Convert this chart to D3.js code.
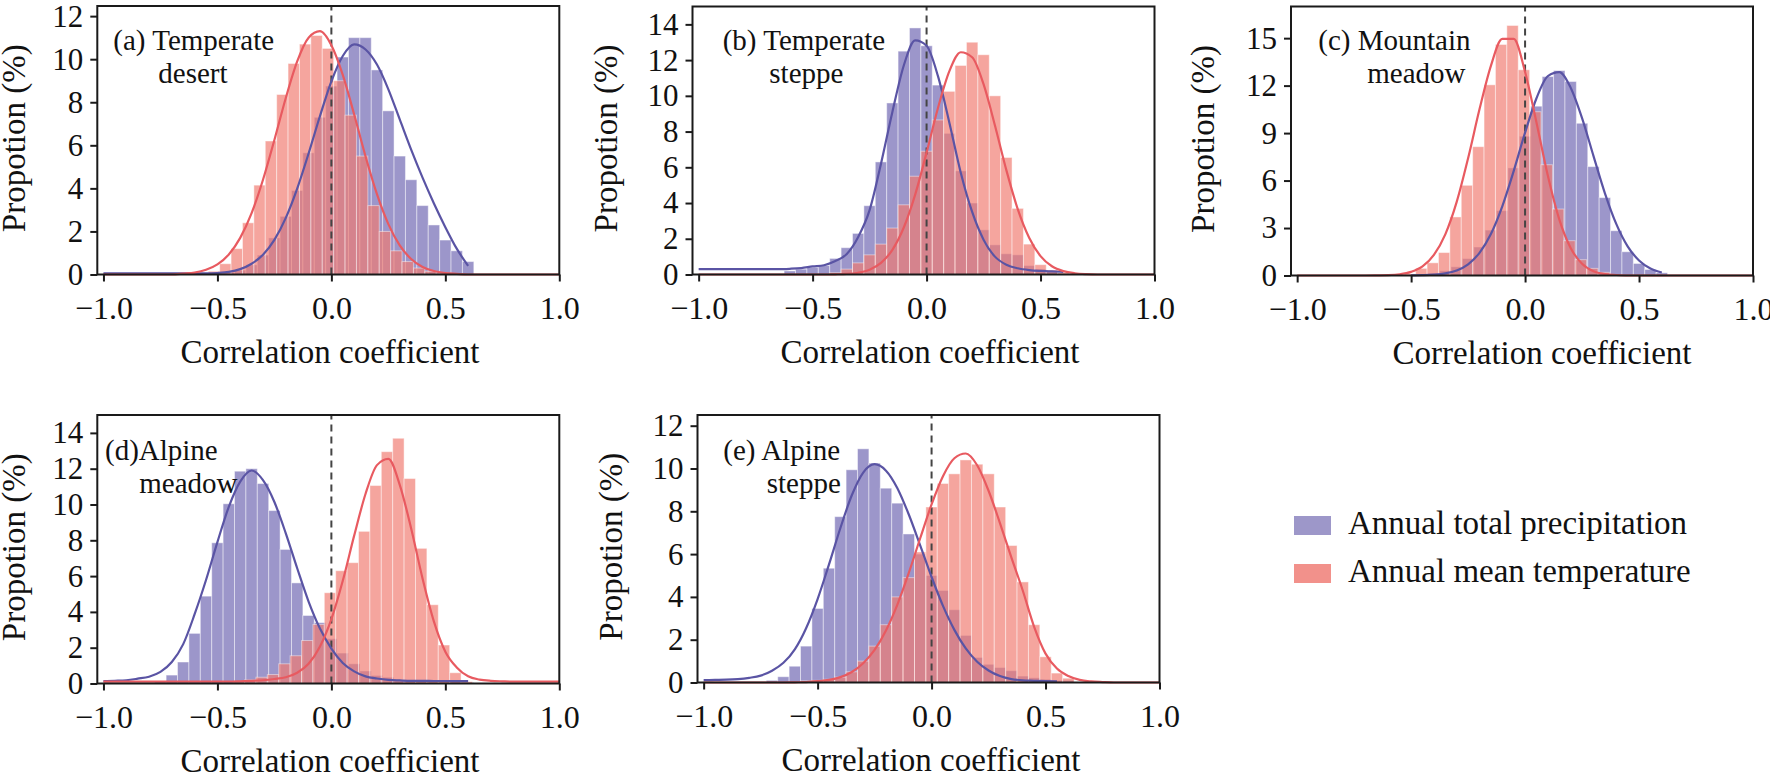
<!DOCTYPE html>
<html><head><meta charset="utf-8">
<script src="https://cdn.jsdelivr.net/npm/d3@7"></script>
<style>
html,body{margin:0;padding:0;background:#fff;}
svg{display:block;font-family:"Liberation Serif","Times New Roman",serif;}
</style></head><body>
<svg id="chart" width="1770" height="775"></svg>
<script>
// ---------------- DATA ----------------
const seriesNames = ["Annual total precipitation", "Annual mean temperature"];
const xTickValues = [-1, -0.5, 0, 0.5, 1];
const xTickLabels = ["\u22121.0", "\u22120.5", "0.0", "0.5", "1.0"];
const binWidth = 0.05;

const yTicksA = [0, 2, 4, 6, 8, 10, 12];
const yTicksB = [0, 2, 4, 6, 8, 10, 12, 14];
const yTicksC = [0, 3, 6, 9, 12, 15];
const yTicksD = [0, 2, 4, 6, 8, 10, 12, 14];
const yTicksE = [0, 2, 4, 6, 8, 10, 12];

// histogram bars: first bin centre + proportions (%)
const aPrecipStart = -0.45;
const aPrecip = [0.1,0.2,0.45,0.9,1.7,2.7,3.9,5.65,7.3,8.75,10.1,11.0,11.0,9.5,7.6,5.5,4.4,3.2,2.3,1.6,1.1,0.6];
const aTempStart = -0.515;
const aTemp = [0.15,0.5,1.2,2.4,4.15,6.2,8.36,9.8,10.7,11.1,10.5,9.0,7.4,5.5,3.2,2.0,1.1,0.6,0.3,0.15,0.08];

const bPrecipStart = -0.6;
const bPrecip = [0.2,0.3,0.4,0.5,0.9,1.5,2.3,3.85,6.3,9.6,12.5,13.8,12.8,10.6,7.9,5.8,4.0,2.5,1.66,1.16,1.1,0.5,0.3,0.15];
const bTempStart = -0.4;
const bTemp = [0.1,0.3,0.65,1.1,1.7,2.6,3.9,5.5,6.9,8.65,10.25,11.7,13.0,12.3,10.0,6.55,3.7,1.7,0.55,0.25,0.1];

const cPrecipStart = -0.4;
const cPrecip = [0.15,0.3,0.55,1.07,1.8,2.87,4.1,6.8,8.8,10.7,12.57,12.95,12.26,9.62,6.88,4.92,2.83,1.5,0.76,0.38,0.17];
const cTempStart = -0.505;
const cTemp = [0.1,0.45,0.8,1.45,3.7,5.7,8.14,12.05,14.6,15.8,13.0,10.35,7.0,4.2,2.2,1.0,0.45,0.2];

const dPrecipStart = -0.75;
const dPrecip = [0.1,0.47,1.2,2.8,4.88,7.86,10.04,11.86,12.0,11.17,9.66,7.49,5.62,3.8,3.4,2.5,1.7,1.1,0.7,0.45,0.35,0.2,0.15,0.1,0.1,0.1,0.1,0.05];
const dTempStart = -0.406;
const dTemp = [0.1,0.2,0.35,0.5,1.1,1.55,2.4,3.3,5.07,6.3,6.75,8.5,11.06,12.95,13.7,11.45,7.55,4.4,2.15,0.6,0.1];

const ePrecipStart = -0.7;
const ePrecip = [0.1,0.27,0.76,1.7,3.46,5.34,7.75,9.94,10.92,10.25,9.08,8.38,6.94,6.0,5.0,4.3,3.4,2.2,1.17,0.85,0.7,0.55,0.3,0.22,0.15,0.1,0.1];
const eTempStart = -0.55;
const eTemp = [0.08,0.1,0.15,0.25,0.5,1.0,1.7,2.7,4.0,4.9,6.1,8.2,9.3,9.75,10.4,10.2,9.75,8.2,6.4,4.7,2.7,1.2,0.44,0.2];

// fitted curves, read at these x positions (null = not drawn)
const curveX = [-1.0,-0.95,-0.9,-0.85,-0.8,-0.75,-0.7,-0.65,-0.6,-0.55,-0.5,-0.45,-0.4,-0.35,-0.3,-0.25,-0.2,-0.15,-0.1,-0.05,0.0,0.05,0.1,0.15,0.2,0.25,0.3,0.35,0.4,0.45,0.5,0.55,0.6,0.65,0.7,0.75,0.8,0.85,0.9,0.95,1.0];
const aPrecipFit = [0.05,0.05,0.05,0.05,0.05,0.05,0.05,0.05,0.05,0.05,0.07,0.12,0.25,0.5,0.92,1.61,2.63,3.99,5.62,7.36,8.97,10.15,10.69,10.45,9.75,8.6,7.2,5.8,4.5,3.3,2.2,1.2,0.4,null,null,null,null,null,null,null,null];
const aTempFit = [0,0,0,0,0,0,0,0.04,0.09,0.22,0.47,0.93,1.7,2.85,4.4,6.25,8.2,9.9,11.0,11.3,10.65,9.27,7.43,5.48,3.73,2.34,1.35,0.72,0.35,0.16,0.07,0.03,0,0,0,0,0,0,0,0,0];
const bPrecipFit = [0.3,0.3,0.3,0.3,0.3,0.3,0.3,0.3,0.32,0.36,0.45,0.52,0.75,1.15,2.1,3.6,6.2,9.1,11.7,13.1,12.8,11.1,8.5,5.7,3.5,1.95,1.0,0.55,0.35,0.25,0.2,0.17,0.15,null,null,null,null,null,null,null,null];
const bTempFit = [0,0,0,0,0,0,0,0,0,0,0,0,0.01,0.03,0.1,0.27,0.65,1.38,2.63,4.47,6.82,9.32,11.38,12.44,12.16,10.65,8.34,5.84,3.66,2.06,1.03,0.46,0.19,0.07,0.02,0,0,0,0,0,0];
const cPrecipFit = [null,null,null,null,null,null,null,null,null,null,0.01,0.02,0.05,0.13,0.32,0.71,1.43,2.62,4.37,6.6,9.03,11.2,12.6,12.85,11.87,9.95,7.56,5.21,3.26,1.84,0.95,0.44,0.19,null,null,null,null,null,null,null,null];
const cTempFit = [0,0,0,0,0,0,0,0.01,0.025,0.08,0.23,0.57,1.3,2.6,4.65,7.41,10.5,13.25,14.95,14.95,12.86,9.67,6.3,3.55,1.74,0.74,0.27,0.09,0.03,0,0,0,0,0,0,0,0,0,0,0,0];
const dPrecipFit = [0.13,0.15,0.18,0.27,0.38,0.65,1.2,2.2,3.87,5.78,7.9,9.87,11.28,11.9,11.36,10.14,8.39,6.44,4.58,3.07,1.95,1.15,0.68,0.4,0.28,0.2,0.17,0.15,0.15,0.14,0.14,0.13,0.13,null,null,null,null,null,null,null,null];
const dTempFit = [0.1,0.1,0.1,0.1,0.1,0.1,0.1,0.1,0.1,0.1,0.1,0.1,0.12,0.15,0.18,0.25,0.35,0.6,1.1,2.07,3.6,5.74,8.26,10.6,12.2,12.55,11.1,8.66,5.87,3.46,1.78,0.9,0.4,0.22,0.15,0.12,0.1,0.1,0.1,0.1,0.1];
const ePrecipFit = [0.11,0.12,0.13,0.16,0.22,0.32,0.55,0.92,1.55,2.55,3.9,5.52,7.22,8.75,9.81,10.2,9.9,9.08,7.85,6.41,4.93,3.58,2.46,1.59,0.97,0.56,0.3,0.16,0.1,0.08,0.06,0.05,null,null,null,null,null,null,null,null,null];
const eTempFit = [0,0,0,0,0,0,0,0,0.01,0.02,0.06,0.12,0.25,0.49,0.9,1.52,2.43,3.64,5.12,6.74,8.32,9.64,10.48,10.7,10.15,8.96,7.45,5.85,4.3,2.6,1.35,0.65,0.3,0.12,0.05,0.02,0,0,0,0,0];

const panelLabels = [["(a) Temperate","desert"],["(b) Temperate","steppe"],["(c) Mountain","meadow"],["(d)Alpine","meadow"],["(e) Alpine","steppe"]];

// ---------------- LAYOUT / STYLE ----------------
const colPrecipBar = "#7b73b8", colTempBar = "#f07a70";
const colPrecipLine = "#5a54a4", colTempLine = "#e85a60";
const colPrecipKey = "#9d97c9", colTempKey = "#f2918b";

const panels = [
  {frameLeft: 97.3, top: 6, bottom: 274.5, yMax: 12.47, yTicks: yTicksA, pS: aPrecipStart, p: aPrecip, tS: aTempStart, t: aTemp, pF: aPrecipFit, tF: aTempFit, lab: panelLabels[0], l1: [113.3, 50], l2: [158.3, 83], titleX: 330, yTitleX: 24.5},
  {frameLeft: 692.5, top: 6.5, bottom: 274.5, yMax: 15, yTicks: yTicksB, pS: bPrecipStart, p: bPrecip, tS: bTempStart, t: bTemp, pF: bPrecipFit, tF: bTempFit, lab: panelLabels[1], l1: [722.7, 50], l2: [769.3, 83], titleX: 930, yTitleX: 617},
  {frameLeft: 1291, top: 6.5, bottom: 275.5, yMax: 17, yTicks: yTicksC, pS: cPrecipStart, p: cPrecip, tS: cTempStart, t: cTemp, pF: cPrecipFit, tF: cTempFit, lab: panelLabels[2], l1: [1318.3, 50], l2: [1367.3, 83], titleX: 1542, yTitleX: 1214},
  {frameLeft: 97.3, top: 415, bottom: 683.5, yMax: 15, yTicks: yTicksD, pS: dPrecipStart, p: dPrecip, tS: dTempStart, t: dTemp, pF: dPrecipFit, tF: dTempFit, lab: panelLabels[3], l1: [105, 460], l2: [139.3, 492.7], titleX: 330, yTitleX: 24.5},
  {frameLeft: 697.5, top: 415, bottom: 682.5, yMax: 12.5, yTicks: yTicksE, pS: ePrecipStart, p: ePrecip, tS: eTempStart, t: eTemp, pF: ePrecipFit, tF: eTempFit, lab: panelLabels[4], l1: [723.3, 460], l2: [766.7, 492.7], titleX: 931, yTitleX: 622}
];

const svg = d3.select("#chart");
const plotW = 462;
const serif = "Liberation Serif, Times New Roman, serif";

panels.forEach(P => {
  const x = d3.scaleLinear().domain([-1.027, 1.0]).range([P.frameLeft, P.frameLeft + plotW]);
  const y = d3.scaleLinear().domain([0, P.yMax]).range([P.bottom, P.top]);
  const g = svg.append("g");

  const drawBars = (start, vals, fill, op) => {
    g.append("g").selectAll("rect").data(vals).join("rect")
      .attr("x", (d, i) => x(start + i * binWidth - binWidth / 2))
      .attr("width", (d, i) => x(start + i * binWidth + binWidth / 2) - x(start + i * binWidth - binWidth / 2))
      .attr("y", d => y(d))
      .attr("height", d => y(0) - y(d))
      .attr("fill", fill).attr("fill-opacity", op)
      .attr("stroke", "#ffffff").attr("stroke-opacity", 0.45).attr("stroke-width", 1);
  };
  drawBars(P.pS, P.p, colPrecipBar, 0.75);
  drawBars(P.tS, P.t, colTempBar, 0.68);

  // dashed zero line
  g.append("line").attr("x1", x(0)).attr("x2", x(0)).attr("y1", y(0)).attr("y2", P.top)
    .attr("stroke", "#444").attr("stroke-width", 2).attr("stroke-dasharray", "7,5");

  const line = d3.line().defined(d => d[1] !== null).x(d => x(d[0])).y(d => y(d[1])).curve(d3.curveMonotoneX);
  g.append("path").datum(curveX.map((v, i) => [v, P.pF[i]])).attr("d", line)
    .attr("fill", "none").attr("stroke", colPrecipLine).attr("stroke-width", 2.2);
  g.append("path").datum(curveX.map((v, i) => [v, P.tF[i]])).attr("d", line)
    .attr("fill", "none").attr("stroke", colTempLine).attr("stroke-width", 2.2);

  // frame
  g.append("rect").attr("x", P.frameLeft).attr("y", P.top).attr("width", plotW).attr("height", P.bottom - P.top)
    .attr("fill", "none").attr("stroke", "#1a1a1a").attr("stroke-width", 2);

  // x axis
  const xAxis = d3.axisBottom(x).tickValues(xTickValues).tickFormat((d, i) => xTickLabels[i]).tickSize(7).tickPadding(8);
  const gx = g.append("g").attr("transform", `translate(0,${P.bottom})`).call(xAxis);
  gx.select(".domain").remove();
  gx.selectAll(".tick line").attr("stroke", "#1a1a1a").attr("stroke-width", 2);
  gx.selectAll(".tick text").attr("font-family", serif).attr("font-size", 32).attr("fill", "#111")
    .attr("dy", null).attr("y", 44.5);

  // y axis
  const yAxis = d3.axisLeft(y).tickValues(P.yTicks).tickSize(7).tickPadding(7);
  const gy = g.append("g").attr("transform", `translate(${P.frameLeft},0)`).call(yAxis);
  gy.select(".domain").remove();
  gy.selectAll(".tick line").attr("stroke", "#1a1a1a").attr("stroke-width", 2);
  gy.selectAll(".tick text").attr("font-family", serif).attr("font-size", 31).attr("fill", "#111");

  // axis titles
  g.append("text").attr("x", P.titleX).attr("y", P.bottom + 88).attr("text-anchor", "middle")
    .attr("font-family", serif).attr("font-size", 33).attr("fill", "#111").text("Correlation coefficient");
  g.append("text").attr("transform", `translate(${P.yTitleX},${(P.top + P.bottom) / 2 - 2}) rotate(-90)`)
    .attr("text-anchor", "middle").attr("font-family", serif).attr("font-size", 33).attr("fill", "#111").text("Propotion (%)");

  // panel label
  g.append("text").attr("x", P.l1[0]).attr("y", P.l1[1]).attr("font-family", serif).attr("font-size", 29).attr("fill", "#111").text(P.lab[0]);
  g.append("text").attr("x", P.l2[0]).attr("y", P.l2[1]).attr("font-family", serif).attr("font-size", 29).attr("fill", "#111").text(P.lab[1]);
});

// legend
const legend = svg.append("g");
const keyCols = [colPrecipKey, colTempKey];
seriesNames.forEach((name, i) => {
  legend.append("rect").attr("x", 1294).attr("y", 516 + i * 48).attr("width", 37).attr("height", 19).attr("fill", keyCols[i]);
  legend.append("text").attr("x", 1348).attr("y", 534 + i * 48).attr("font-family", serif).attr("font-size", 33).attr("fill", "#111").text(name);
});
</script>
</body></html>
